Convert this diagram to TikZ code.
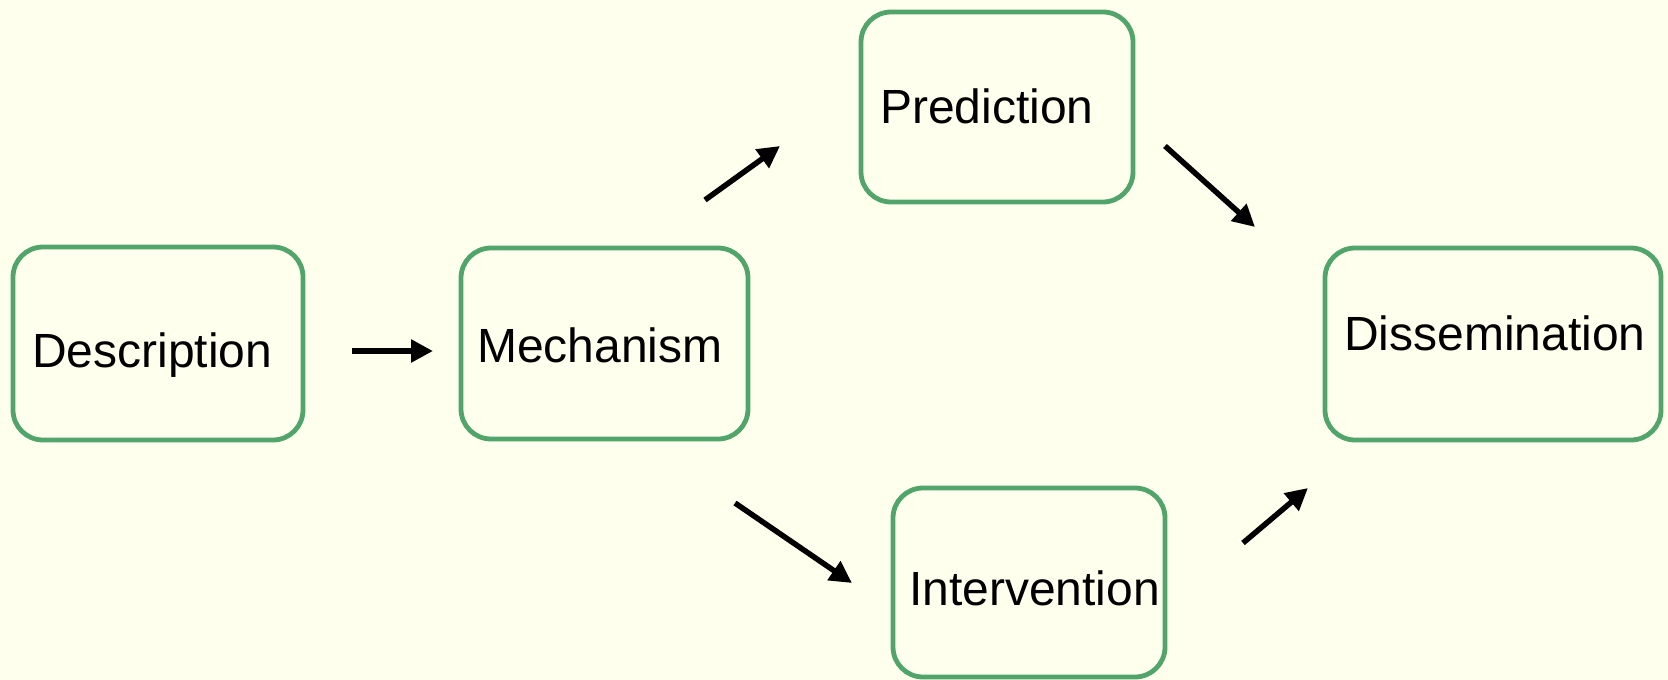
\documentclass[tikz,border=0pt]{standalone}
\usepackage{fontspec}
\setmainfont{Liberation Sans}
\usetikzlibrary{arrows.meta}
\definecolor{bg}{HTML}{FFFFEE}
\definecolor{boxgreen}{RGB}{82,165,106}
\begin{document}
\begin{tikzpicture}[x=1pt,y=-1pt,
  box/.style={draw=boxgreen,line width=4.8pt,rounded corners=30pt,fill=bg,inner sep=0pt,outer sep=0pt},
  lbl/.style={anchor=base west,inner sep=0pt,font=\fontsize{48}{57}\selectfont},
  arr/.style={line width=5.5pt,-{Triangle[length=22pt,width=22pt]}}]
\fill[bg] (0,0) rectangle (1668,680);
\useasboundingbox (0,0) rectangle (1668,680);
% boxes
\node[box,minimum width=290pt,minimum height=193pt] (desc) at (158,343.5) {};
\node[box,minimum width=287pt,minimum height=191pt] (mech) at (604.5,343.5) {};
\node[box,minimum width=272pt,minimum height=190pt] (pred) at (997,107) {};
\node[box,minimum width=336pt,minimum height=192pt] (diss) at (1493,344) {};
\node[box,minimum width=272pt,minimum height=189pt] (inte) at (1029,582.5) {};
% labels
\node[lbl] (tdesc) at (32,367) {Description};
\node[lbl] (tmech) at (477,362) {Mechanism};
\node[lbl] (tpred) at (880,123) {Prediction};
\node[lbl] (tdiss) at (1344,350) {Dissemination};
\node[lbl] (tinte) at (909,605) {Intervention};
% arrow ends
\coordinate (a1s) at (352,351); \coordinate (a1e) at (433,351);
\coordinate (a2s) at (705,200); \coordinate (a2e) at (780,146);
\coordinate (a3s) at (1165,146); \coordinate (a3e) at (1255,227);
\coordinate (a4s) at (735,503); \coordinate (a4e) at (852,583);
\coordinate (a5s) at (1243,543); \coordinate (a5e) at (1308,488);
\draw[arr] (a1s) -- (a1e);
\draw[arr] (a2s) -- (a2e);
\draw[arr] (a3s) -- (a3e);
\draw[arr] (a4s) -- (a4e);
\draw[arr] (a5s) -- (a5e);
\end{tikzpicture}
\end{document}
